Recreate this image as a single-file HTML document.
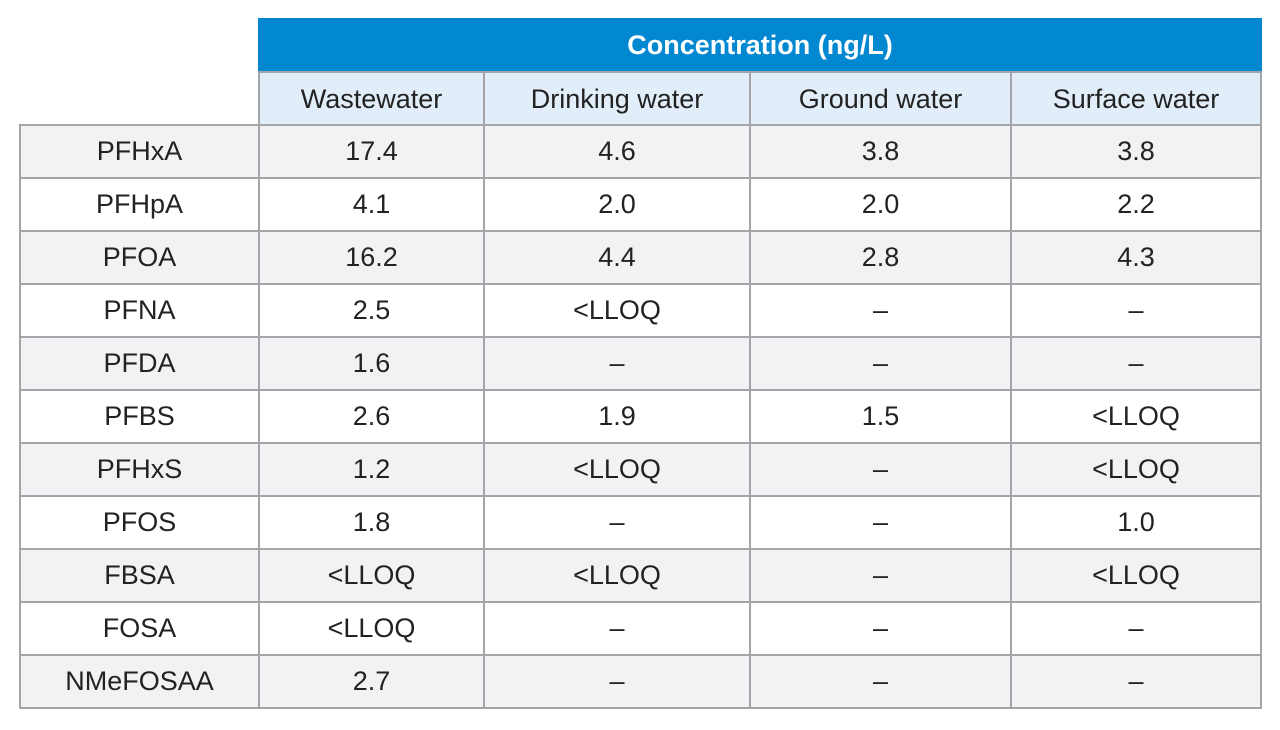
<!DOCTYPE html>
<html><head><meta charset="utf-8"><style>
body{margin:0;width:1280px;height:730px;background:#fff;font-family:"Liberation Sans",sans-serif;position:relative;overflow:hidden}
.c{position:absolute;box-sizing:border-box;display:flex;align-items:center;justify-content:center;font-size:27px;color:#222}
.b{border-left:2px solid #a3a5a8;border-top:2px solid #a3a5a8}
</style></head><body>
<div class="c" style="left:258px;top:18px;width:1004px;height:54px;background:#0288d1;color:#fff;font-weight:bold;font-size:27px">Concentration (ng/L)</div>
<div id="t"></div>
<script>
const cols=["Wastewater","Drinking water","Ground water","Surface water"];
const rows=["PFHxA","PFHpA","PFOA","PFNA","PFDA","PFBS","PFHxS","PFOS","FBSA","FOSA","NMeFOSAA"];
const vals=[["17.4","4.6","3.8","3.8"],["4.1","2.0","2.0","2.2"],["16.2","4.4","2.8","4.3"],["2.5","<LLOQ","–","–"],["1.6","–","–","–"],["2.6","1.9","1.5","<LLOQ"],["1.2","<LLOQ","–","<LLOQ"],["1.8","–","–","1.0"],["<LLOQ","<LLOQ","–","<LLOQ"],["<LLOQ","–","–","–"],["2.7","–","–","–"]];
const xs=[19,258,483,749,1010,1262];
const t=document.getElementById('t');
function cell(x,y,w,h,txt,bg,extra){const d=document.createElement('div');d.className='c b';d.style.cssText=`left:${x}px;top:${y}px;width:${w}px;height:${h}px;background:${bg};${extra||''}`;d.textContent=txt;t.appendChild(d);return d;}
cols.forEach((c,i)=>{const d=cell(xs[i+1],71,xs[i+2]-xs[i+1],54,c,'#e1eef9',i==3?'border-right:2px solid #a3a5a8':'');

});
const y0=124,rh=53;
rows.forEach((r,ri)=>{const y=y0+ri*rh;const bg=ri%2==0?'#f2f2f4':'#fff';const last=ri==rows.length-1?'border-bottom:2px solid #a3a5a8;':'';
const d=cell(xs[0],y,xs[1]-xs[0],rh+(ri==rows.length-1?2:0),r,bg,last);


vals[ri].forEach((v,ci)=>{const e=cell(xs[ci+1],y,xs[ci+2]-xs[ci+1],rh+(ri==rows.length-1?2:0),v,bg,last+(ci==3?'border-right:2px solid #a3a5a8':''));

});});
</script>
</body></html>
